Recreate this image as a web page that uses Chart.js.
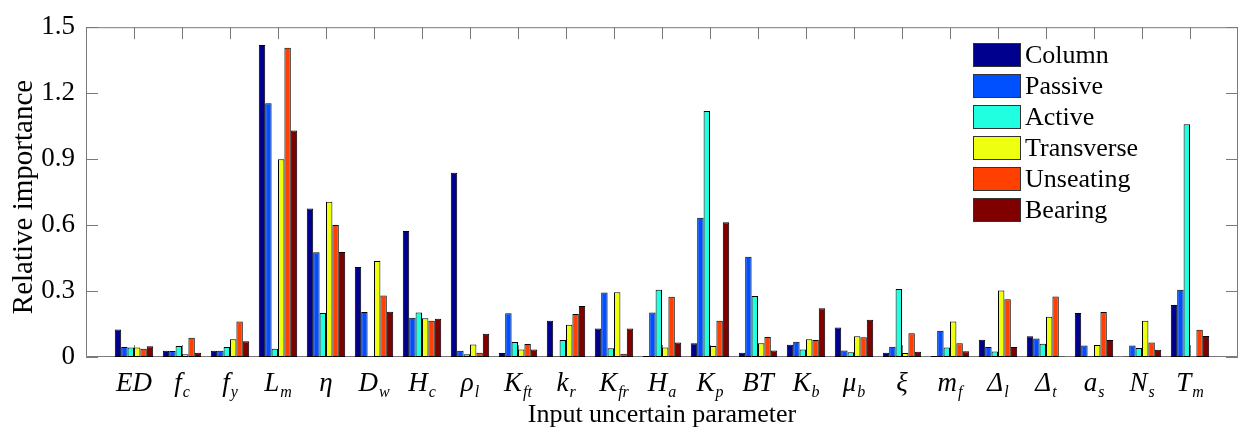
<!DOCTYPE html>
<html lang="en">
<head>
<meta charset="UTF-8" />
<title>Relative importance of input uncertain parameters</title>
<style>
  body { margin: 0; background: #fff; }
  #wrap { width: 1244px; height: 434px; }
</style>
</head>
<body>
<div id="wrap"><canvas id="chart" width="1244" height="434"></canvas></div>
<script src="https://cdn.jsdelivr.net/npm/chart.js"></script>
<script>
// categories: main symbol + subscript
const catMain = ['ED', 'f', 'f', 'L', 'η', 'D', 'H', 'ρ', 'K', 'k', 'K', 'H', 'K', 'BT', 'K', 'μ', 'ξ', 'm', 'Δ', 'Δ', 'a', 'N', 'T'];
const catSub = ['', 'c', 'y', 'm', '', 'w', 'c', 'l', 'ft', 'r', 'fr', 'a', 'p', '', 'b', 'b', '', 'f', 'l', 't', 's', 's', 'm'];

const seriesNames = ['Column', 'Passive', 'Active', 'Transverse', 'Unseating', 'Bearing'];
const seriesColors = ['#00008f', '#0050ff', '#20ffdf', '#efff10', '#ff4000', '#800000'];

const column = [0.125, 0.028, 0.028, 1.419, 0.675, 0.409, 0.573, 0.838, 0.018, 0.165, 0.130, 0.004, 0.062, 0.019, 0.056, 0.134, 0.019, 0.004, 0.079, 0.094, 0.200, 0.002, 0.237];
const passive = [0.046, 0.027, 0.028, 1.154, 0.476, 0.205, 0.178, 0.028, 0.199, 0.002, 0.293, 0.202, 0.633, 0.456, 0.069, 0.030, 0.047, 0.119, 0.046, 0.084, 0.052, 0.052, 0.306];
const active = [0.043, 0.050, 0.046, 0.038, 0.200, 0.003, 0.202, 0.013, 0.068, 0.077, 0.040, 0.306, 1.119, 0.277, 0.034, 0.022, 0.309, 0.043, 0.025, 0.060, 0.003, 0.041, 1.059];
const transverse = [0.043, 0.012, 0.081, 0.899, 0.706, 0.437, 0.176, 0.057, 0.034, 0.147, 0.294, 0.043, 0.050, 0.062, 0.081, 0.094, 0.018, 0.162, 0.302, 0.183, 0.055, 0.165, 0.002];
const unseating = [0.038, 0.088, 0.162, 1.407, 0.600, 0.280, 0.165, 0.019, 0.059, 0.196, 0.015, 0.274, 0.165, 0.091, 0.077, 0.090, 0.108, 0.062, 0.263, 0.275, 0.205, 0.066, 0.124];
const bearing = [0.049, 0.019, 0.072, 1.030, 0.478, 0.206, 0.174, 0.106, 0.034, 0.232, 0.130, 0.066, 0.613, 0.030, 0.222, 0.169, 0.024, 0.026, 0.046, 0.002, 0.077, 0.033, 0.096];

const yTicks = [0, 0.3, 0.6, 0.9, 1.2, 1.5];

const FONT = '"Liberation Serif", "Times New Roman", serif';
const AXIS = '#7a7a7a';

// one empty slot on each side, like the x limits of the original
const pad = arr => [null, ...arr, null];
const labels = ['', ...catMain, ''];
const allSeries = [column, passive, active, transverse, unseating, bearing];

const frame = {
  id: 'frame',
  beforeDatasetsDraw(chart) {
    const { ctx, chartArea: a, scales: { x, y } } = chart;
    ctx.save();
    ctx.strokeStyle = AXIS;
    ctx.lineWidth = 1;
    ctx.beginPath();
    ctx.rect(a.left + 0.5, a.top + 0.5, a.right - a.left - 1, a.bottom - a.top - 1);
    for (let i = 1; i <= catMain.length; i++) {
      const px = Math.round(x.getPixelForValue(i)) + 0.5;
      ctx.moveTo(px, a.top);
      ctx.lineTo(px, a.top + 12);
      ctx.moveTo(px, a.bottom);
      ctx.lineTo(px, a.bottom - 12);
    }
    yTicks.forEach(v => {
      const py = Math.round(y.getPixelForValue(v)) + 0.5;
      ctx.moveTo(a.left, py);
      ctx.lineTo(a.left + 12, py);
      ctx.moveTo(a.right, py);
      ctx.lineTo(a.right - 12, py);
    });
    ctx.stroke();
    ctx.restore();
  },
  afterDraw(chart) {
    const { ctx, scales: { x } } = chart;
    ctx.save();
    ctx.fillStyle = '#000';
    ctx.textAlign = 'left';
    ctx.textBaseline = 'alphabetic';
    const mainFont = 'italic 27px ' + FONT;
    const subFont = 'italic 16px ' + FONT;
    catMain.forEach((m, i) => {
      const cx = x.getPixelForValue(i + 1);
      ctx.font = mainFont;
      const wm = ctx.measureText(m).width;
      ctx.font = subFont;
      const ws = catSub[i] ? ctx.measureText(catSub[i]).width + 1 : 0;
      const x0 = cx - (wm + ws) / 2;
      ctx.font = mainFont;
      ctx.fillText(m, x0, 391);
      if (catSub[i]) {
        ctx.font = subFont;
        ctx.fillText(catSub[i], x0 + wm + 1, 397);
      }
    });

    // y axis title
    ctx.save();
    ctx.translate(24, 197);
    ctx.rotate(-Math.PI / 2);
    ctx.font = '29px ' + FONT;
    ctx.textAlign = 'center';
    ctx.textBaseline = 'middle';
    ctx.fillText('Relative importance', 0, 0);
    ctx.restore();

    // legend
    ctx.font = '26px ' + FONT;
    ctx.textBaseline = 'middle';
    chart.data.datasets.forEach((ds, i) => {
      const top = 43.5 + i * 31;
      ctx.fillStyle = ds.backgroundColor;
      ctx.fillRect(973.5, top, 47, 23);
      ctx.strokeStyle = '#333';
      ctx.lineWidth = 1;
      ctx.strokeRect(973.5, top, 47, 23);
      ctx.fillStyle = '#000';
      ctx.fillText(ds.label, 1025, top + 12.5);
    });
    ctx.restore();
  }
};

new Chart(document.getElementById('chart'), {
  type: 'bar',
  data: {
    labels: labels,
    datasets: seriesNames.map((name, i) => ({
      label: name,
      data: pad(allSeries[i]),
      backgroundColor: seriesColors[i],
      borderColor: '#000',
      borderWidth: 1,
      borderSkipped: false,
      categoryPercentage: 0.8,
      barPercentage: 1.0
    }))
  },
  options: {
    responsive: false,
    devicePixelRatio: 1,
    animation: false,
    layout: { padding: { top: 16, right: 6, left: 0, bottom: 0 } },
    plugins: { legend: { display: false }, tooltip: { enabled: false } },
    scales: {
      x: {
        offset: false,
        grid: { display: false },
        border: { display: false },
        ticks: { display: false },
        title: {
          display: true,
          text: 'Input uncertain parameter',
          color: '#000',
          font: { family: FONT, size: 26 },
          padding: { top: 0, bottom: 3 }
        },
        afterFit: s => { s.height = 77; }
      },
      y: {
        min: 0,
        max: 1.5,
        grid: { display: false, drawTicks: false },
        border: { display: false },
        afterBuildTicks: s => { s.ticks = yTicks.map(v => ({ value: v })); },
        ticks: {
          color: '#000',
          padding: 11,
          font: { family: FONT, size: 27 },
          callback: v => String(v)
        },
        title: { display: false },
        afterFit: s => { s.width = 86; }
      }
    }
  },
  plugins: [frame]
});
</script>
</body>
</html>
